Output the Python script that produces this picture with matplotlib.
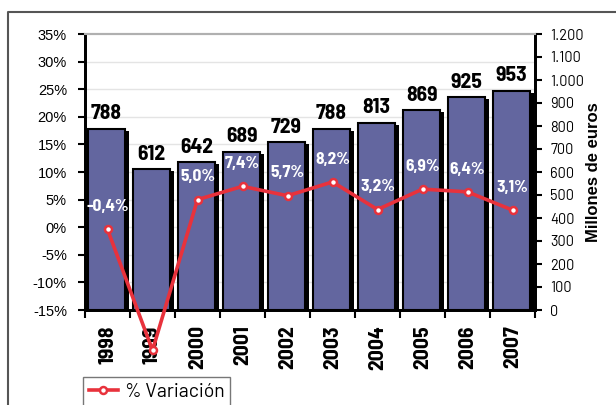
import matplotlib as mpl
mpl.use('Agg')
import matplotlib.pyplot as plt
from matplotlib import font_manager
from matplotlib.lines import Line2D
from matplotlib.transforms import blended_transform_factory

years = ['1998', '1999', '2000', '2001', '2002', '2003', '2004', '2005', '2006', '2007']
euros = [788, 612, 642, 689, 729, 788, 813, 869, 925, 953]
variacion = [-0.4, -22.3, 5.0, 7.4, 5.7, 8.2, 3.2, 6.9, 6.4, 3.1]
var_labels = ['-0,4%', '-22,3%', '5,0%', '7,4%', '5,7%', '8,2%', '3,2%', '6,9%', '6,4%', '3,1%']
pct_ticks = [-15, -10, -5, 0, 5, 10, 15, 20, 25, 30, 35]
eur_ticks = [0, 100, 200, 300, 400, 500, 600, 700, 800, 900, 1000, 1100, 1200]


def pick(*names):
    for name in names:
        try:
            font_manager.findfont(name, fallback_to_default=False)
            return name
        except Exception:
            pass
    return 'DejaVu Sans'

COND = pick('Barlow Semi Condensed', 'Roboto Condensed', 'IBM Plex Sans Condensed')
DIN = pick('Barlow', 'Roboto', 'DejaVu Sans')
SANS = pick('Liberation Sans', 'Arimo', 'DejaVu Sans')

BAR = '#63669f'
RED = '#e8323c'

fig = plt.figure(figsize=(6.16, 4.05), dpi=100)
ax = fig.add_axes([85/616, 1-310/405, 450/616, 276/405])
ax2 = ax.twinx()

x = list(range(len(years)))
# bars live on ax, with their scale drawn on the right
ax.yaxis.tick_right()
ax.yaxis.set_label_position('right')
ax2.yaxis.tick_left()
ax2.yaxis.set_label_position('left')

ax.set_xlim(-0.5, len(years) - 0.5)
ax.set_ylim(0, 1200)
ax2.set_ylim(-15, 35)

# light gridlines at the percentage ticks, behind bars
gtr = blended_transform_factory(ax.transAxes, ax2.transData)
ax.hlines(pct_ticks[1:-1], 0, 1, transform=gtr, color='#e4e4e4', lw=1, zorder=0)

xs = [i - 0.02 for i in x]
ax.bar([i + 0.08 for i in xs], [v - 9 for v in euros], width=0.82, color='black', zorder=2)
ax.bar(xs, euros, width=0.82, color=BAR, edgecolor='black', linewidth=1.5, zorder=3)
for i, v in zip(xs, euros):
    ax.annotate(str(v), (i, v), xytext=(0, 4), textcoords='offset points',
                ha='center', va='bottom', fontsize=15.5, fontweight='bold',
                family=COND, zorder=4)

ax2.plot(x, variacion, color=RED, lw=2.6, marker='o', markersize=5,
         markerfacecolor='white', markeredgecolor=RED, markeredgewidth=1.8,
         clip_on=False, zorder=5, label='% Variación')
for i, v, s in zip(x, variacion, var_labels):
    ax2.annotate(s, (i, v), xytext=(0, 11), textcoords='offset points',
                 ha='center', va='bottom', fontsize=12.5, fontweight='bold',
                 family=COND, color='white', annotation_clip=True, clip_on=True)

# ticks and spines
ax.set_yticks(eur_ticks)
ax.set_yticklabels([f'{t:,}'.replace(',', '.') for t in eur_ticks], family=DIN, fontsize=10.5)
ax2.set_yticks(pct_ticks)
ax2.set_yticklabels([f'{t}%' for t in pct_ticks], family=SANS, fontsize=10.5)
ax.tick_params(axis='y', direction='out', length=5, width=1.5, pad=6)
ax2.tick_params(axis='y', direction='out', length=5, width=1.5, pad=8)

ax.set_xticks(x)
ax.set_xticklabels(years, rotation=90, fontsize=15.5, fontweight='bold', family=COND)
ax.set_xticks([i + 0.5 for i in x[:-1]] + [-0.5, len(years) - 0.5], minor=True)
ax.tick_params(axis='x', which='major', length=0, pad=11)
ax.tick_params(axis='x', which='minor', direction='out', length=6, width=1.5)

ax.set_ylabel('Millones de euros', family=SANS, fontsize=12, fontweight='bold', labelpad=1)

for a in (ax, ax2):
    for side in ('left', 'right', 'bottom'):
        a.spines[side].set_linewidth(2)
        a.spines[side].set_color('black')
    a.spines['top'].set_color('#b0b0b0')
    a.spines['top'].set_linewidth(1.5)

# outer frame
fig.add_artist(Line2D([8/616, 8/616, 1], [0, 1-12/405, 1-12/405],
                      transform=fig.transFigure, color='#555555', lw=1.5))

leg = fig.legend(handles=[ax2.get_lines()[0]], loc='upper left',
                 bbox_to_anchor=(83/616, 1-377/405), frameon=True, fancybox=False,
                 edgecolor='#777777', framealpha=1, prop={'family': DIN, 'size': 14},
                 handlelength=1.5, handletextpad=0.35, borderpad=0.3, borderaxespad=0)

fig.savefig('out.png', dpi=100)
